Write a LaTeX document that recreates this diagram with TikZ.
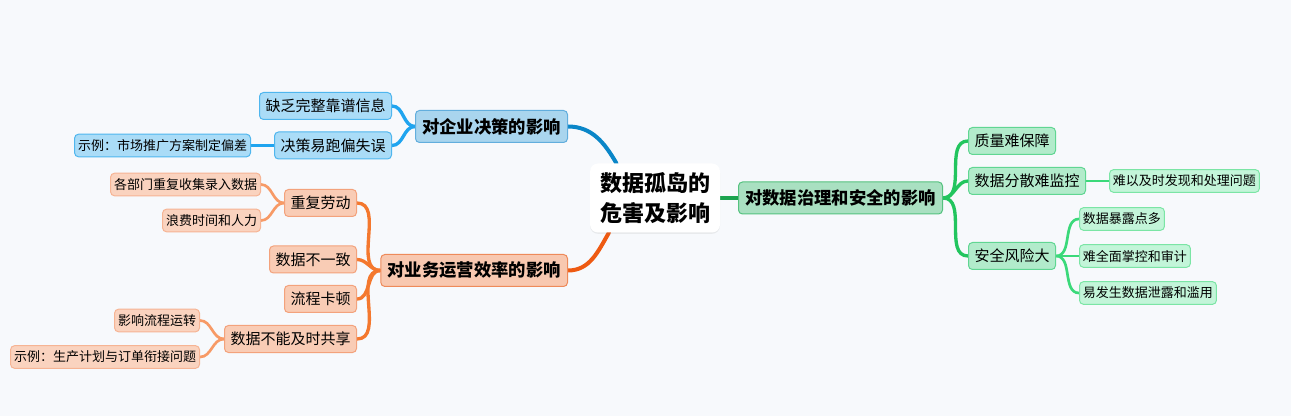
\documentclass[tikz,border=0pt]{standalone}
\usepackage{fontspec}
\setmainfont{Noto Sans CJK SC}
\usetikzlibrary{positioning,backgrounds,shadows}
\definecolor{bgc}{HTML}{F7F9FC}
\definecolor{decfill}{HTML}{A9D5EE}
\definecolor{decline}{HTML}{62AEDD}
\definecolor{decsub}{HTML}{AADCF7}
\definecolor{decsubline}{HTML}{4FB6EE}
\definecolor{decedge}{HTML}{0A86C8}
\definecolor{decsubedge}{HTML}{1FA4EF}
\definecolor{opsfill}{HTML}{F8C8B0}
\definecolor{opsline}{HTML}{EE8A5A}
\definecolor{opssub}{HTML}{F9CCB5}
\definecolor{opssubline}{HTML}{F3A27C}
\definecolor{opsleaf}{HTML}{FAD3BF}
\definecolor{opsleafline}{HTML}{F6B494}
\definecolor{opsedge}{HTML}{EE5A12}
\definecolor{opssubedge}{HTML}{F4782E}
\definecolor{opsleafedge}{HTML}{F79A66}
\definecolor{govfill}{HTML}{A9E0C1}
\definecolor{govline}{HTML}{55C27F}
\definecolor{govsub}{HTML}{B2EBCB}
\definecolor{govsubline}{HTML}{60D692}
\definecolor{govleaf}{HTML}{C3F5D9}
\definecolor{govleafline}{HTML}{7BE5A5}
\definecolor{govedge}{HTML}{1BA34F}
\definecolor{govsubedge}{HTML}{22C55E}
\definecolor{govleafedge}{HTML}{3BD97A}

\begin{document}
\begin{tikzpicture}[
  x=0.75pt, y=-0.75pt,
  box/.style={rectangle, rounded corners=3pt, draw, line width=0.75pt, inner ysep=0pt},
  topic/.style={box, font=\bfseries\fontsize{13}{15}\selectfont, inner xsep=5pt, minimum height=24pt},
  sub/.style={box, font=\fontsize{11.25}{13}\selectfont, inner xsep=4.5pt, minimum height=20.25pt},
  leaf/.style={box, font=\fontsize{9.75}{11}\selectfont, inner xsep=2.6pt, minimum height=17pt},
  centre/.style={rectangle, rounded corners=6pt, fill=white, align=center,
    font=\bfseries\fontsize{16.5}{22.5}\selectfont, inner xsep=7.5pt,
    minimum width=97.5pt, minimum height=51.75pt,
    drop shadow={opacity=0.12, shadow xshift=0pt, shadow yshift=-1pt}},
  decT/.style={topic, fill=decfill, draw=decline},
  decS/.style={sub, fill=decsub, draw=decsubline},
  decL/.style={leaf, fill=decsub, draw=decsubline},
  opsT/.style={topic, fill=opsfill, draw=opsline},
  opsS/.style={sub, fill=opssub, draw=opssubline},
  opsL/.style={leaf, fill=opsleaf, draw=opsleafline},
  govT/.style={topic, fill=govfill, draw=govline},
  govS/.style={sub, fill=govsub, draw=govsubline},
  govL/.style={leaf, fill=govleaf, draw=govleafline},
  link/.style={line width=3pt, line cap=round},
  sublink/.style={line width=2.5pt, line cap=round},
  leaflink/.style={line width=2pt, line cap=round}
]
  \useasboundingbox (0,0) rectangle (1291,416);

  \node[centre] (root) at (655,198) {数据孤岛的\\危害及影响};

  \node[decT, anchor=east] (dec) at (568,126.5) {对企业决策的影响};
  \node[decS, anchor=east] (dec1) at (392,106) {缺乏完整靠谱信息};
  \node[decS, anchor=east] (dec2) at (392,145.5) {决策易跑偏失误};
  \node[decL, anchor=east] (dec2a) at (251,145.5) {示例：市场推广方案制定偏差};

  \node[opsT, anchor=east] (ops) at (568,270.5) {对业务运营效率的影响};
  \node[opsS, anchor=east] (ops1) at (357,203) {重复劳动};
  \node[opsS, anchor=east] (ops2) at (357,259.5) {数据不一致};
  \node[opsS, anchor=east] (ops3) at (357,299) {流程卡顿};
  \node[opsS, anchor=east] (ops4) at (357,339) {数据不能及时共享};
  \node[opsL, anchor=east] (ops1a) at (261,184.5) {各部门重复收集录入数据};
  \node[opsL, anchor=east] (ops1b) at (261,220.5) {浪费时间和人力};
  \node[opsL, anchor=east] (ops4a) at (200,320.5) {影响流程运转};
  \node[opsL, anchor=east] (ops4b) at (200,357) {示例：生产计划与订单衔接问题};

  \node[govT, anchor=west] (gov) at (738,198) {对数据治理和安全的影响};
  \node[govS, anchor=west] (gov1) at (968,141) {质量难保障};
  \node[govS, anchor=west] (gov2) at (968,181) {数据分散难监控};
  \node[govS, anchor=west] (gov3) at (968,256) {安全风险大};
  \node[govL, anchor=west] (gov2a) at (1109,181) {难以及时发现和处理问题};
  \node[govL, anchor=west] (gov3a) at (1079,219) {数据暴露点多};
  \node[govL, anchor=west] (gov3b) at (1079,256) {难全面掌控和审计};
  \node[govL, anchor=west] (gov3c) at (1079,293) {易发生数据泄露和滥用};

  \begin{pgfonlayer}{background}
    \fill[bgc] (0,0) rectangle (1291,416);
    \draw[link, decedge] (root.138) to[out=120, in=0] (dec.east);
    \draw[link, opsedge] (root.217) to[out=240, in=0] (ops.east);
    \draw[link, govedge] (root.east) -- (gov.west);
    \foreach \c in {dec1,dec2}
      \draw[sublink, decsubedge] (dec.west) to[out=180, in=0] (\c.east);
    \draw[leaflink, decsubedge] (dec2.west) -- (dec2a.east);
    \foreach \c in {ops1,ops2,ops3,ops4}
      \draw[sublink, opssubedge] (ops.west) to[out=180, in=0] (\c.east);
    \foreach \c in {ops1a,ops1b}
      \draw[leaflink, opsleafedge] (ops1.west) to[out=180, in=0] (\c.east);
    \foreach \c in {ops4a,ops4b}
      \draw[leaflink, opsleafedge] (ops4.west) to[out=180, in=0] (\c.east);
    \foreach \c in {gov1,gov2,gov3}
      \draw[sublink, govsubedge] (gov.east) to[out=0, in=180] (\c.west);
    \draw[leaflink, govleafedge] (gov2.east) -- (gov2a.west);
    \foreach \c in {gov3a,gov3b,gov3c}
      \draw[leaflink, govleafedge] (gov3.east) to[out=0, in=180] (\c.west);
  \end{pgfonlayer}
\end{tikzpicture}
\end{document}
